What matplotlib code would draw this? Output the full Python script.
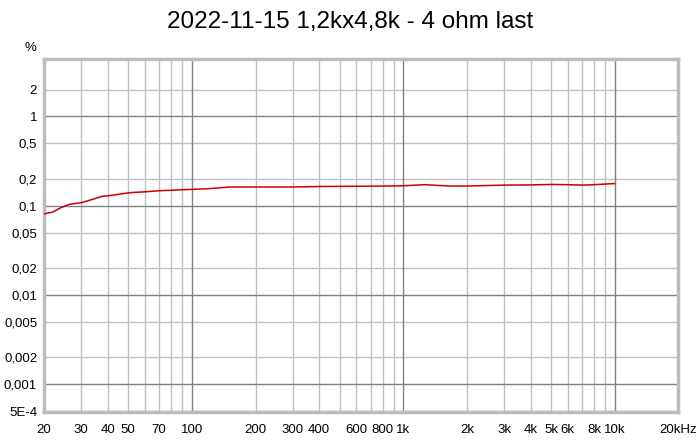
import matplotlib.pyplot as plt
from matplotlib.ticker import FixedLocator, NullLocator

plt.rcParams['font.family'] = ['Liberation Sans', 'DejaVu Sans']

# measured curve (Hz, %)
freq = [20, 22, 24, 26.5, 30, 34, 37.5, 42, 51, 60, 70, 80, 97, 120, 151,
        200, 300, 400, 600, 800, 1000, 1260, 1650, 2000, 3000, 4070, 5000,
        5900, 7100, 8000, 10000]
thd = [0.081, 0.085, 0.095, 0.104, 0.108, 0.118, 0.127, 0.131, 0.140, 0.143,
       0.147, 0.149, 0.152, 0.155, 0.162, 0.162, 0.162, 0.164, 0.165, 0.166,
       0.167, 0.172, 0.166, 0.166, 0.170, 0.171, 0.173, 0.172, 0.170, 0.172,
       0.177]

xticks = [20, 30, 40, 50, 70, 100, 200, 300, 400, 600, 800, 1000,
          2000, 3000, 4000, 5000, 6000, 8000, 10000, 20000]
xlabels = ['20', '30', '40', '50', '70', '100', '200', '300', '400', '600',
           '800', '1k', '2k', '3k', '4k', '5k', '6k', '8k', '10k', '20kHz']
yticks = [5e-4, 0.001, 0.002, 0.005, 0.01, 0.02, 0.05, 0.1, 0.2, 0.5, 1, 2]
ylabels = ['5E-4', '0,001', '0,002', '0,005', '0,01', '0,02', '0,05',
           '0,1', '0,2', '0,5', '1', '2']

fig = plt.figure(figsize=(7, 4.43), dpi=100)
ax = fig.add_axes([0.063, 0.070, 0.906, 0.797])
ax.set_xscale('log')
ax.set_yscale('log')
ax.set_xlim(20, 20000)
ax.set_ylim(4.9e-4, 4.4)

# grid
minor_x = [m * d for d in (10, 100, 1000) for m in range(2, 10)]
for x in minor_x:
    ax.axvline(x, color='#c0c0c0', lw=1, zorder=1)
for x in (100, 1000, 10000):
    ax.axvline(x, color='#808080', lw=1, zorder=1.5)
for y in yticks:
    c = '#808080' if y in (0.001, 0.01, 0.1, 1) else '#c0c0c0'
    ax.axhline(y, color=c, lw=1, zorder=1)

ax.plot(freq, thd, color='#cc0000', lw=1.1, zorder=3)

ax.xaxis.set_major_locator(FixedLocator(xticks))
ax.xaxis.set_minor_locator(NullLocator())
ax.set_xticklabels(xlabels)
ax.yaxis.set_major_locator(FixedLocator(yticks))
ax.yaxis.set_minor_locator(NullLocator())
ax.set_yticklabels(ylabels)
ax.tick_params(length=0, labelsize=9.5)
ax.tick_params(axis='x', pad=9)
ax.tick_params(axis='y', pad=5)

for s in ax.spines.values():
    s.set_color('#bcbcbc')
    s.set_linewidth(2.5)

ax.text(-0.012, 1.015, '%', transform=ax.transAxes, ha='right', va='bottom',
        fontsize=9.5)
fig.suptitle('2022-11-15 1,2kx4,8k - 4 ohm last', fontsize=17.5, y=0.975)

plt.savefig('out.png', dpi=100)
